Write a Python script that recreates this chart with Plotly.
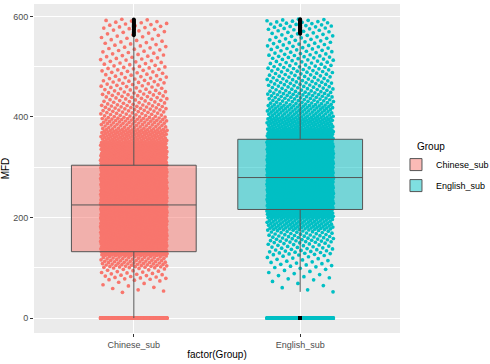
import plotly.graph_objects as go

# ---------------- data ----------------
groups = ["Chinese_sub", "English_sub"]
colors = ["#F8766D", "#00BFC4"]
fills = ["rgba(248,118,109,0.5)", "rgba(0,191,196,0.5)"]

# MFD histogram (25-unit bins) of the non-zero values, estimated from the dot density
bin_lo = [50, 75, 100, 125, 150, 175, 200, 225, 250, 275, 300, 325, 350, 375,
          400, 425, 450, 475, 500, 525, 550, 575]
bin_hi = [75, 100, 125, 150, 175, 200, 225, 250, 275, 300, 325, 350, 375, 400,
          425, 450, 475, 500, 525, 550, 575, 595]
counts_chinese = [10, 28, 70, 230, 320, 330, 330, 320, 300, 280, 230, 170, 110, 70,
                  50, 38, 30, 26, 22, 19, 17, 17]
counts_english = [6, 12, 20, 35, 50, 90, 210, 300, 320, 320, 300, 260, 170, 110,
                  80, 58, 45, 38, 32, 28, 25, 25]
zeros_chinese = 850
zeros_english = 700

# box statistics
q1 = [132, 216]
median = [225, 279.5]
q3 = [304, 355.6]

counts = [counts_chinese, counts_english]
zeros = [zeros_chinese, zeros_english]

# ---------------- build the figure ----------------
PHI = 0.6180339887
fig = go.Figure()

for gi, g in enumerate(groups):
    pos = gi + 1
    ys, xs = [], []
    k = 0
    for _ in range(zeros[gi]):
        ys.append(0)
        xs.append(pos + 0.2 * (2 * ((k * PHI + 0.37 * gi) % 1) - 1))
        k += 1
    for lo, hi, n in zip(bin_lo, bin_hi, counts[gi]):
        for i in range(n):
            ys.append(round(lo + (i + 0.5) * (hi - lo) / n, 1))
            xs.append(pos + 0.2 * (2 * ((k * PHI + 0.37 * gi) % 1) - 1))
            k += 1
    iqr = q3[gi] - q1[gi]
    up_lim = q3[gi] + 1.5 * iqr
    lo_lim = q1[gi] - 1.5 * iqr
    upper = max(y for y in ys if y <= up_lim)
    lower = min(y for y in ys if y >= lo_lim)
    outl = [y for y in ys if y > up_lim or y < lo_lim]

    # jittered points
    fig.add_trace(go.Scatter(
        x=xs, y=ys, mode="markers", showlegend=False, hoverinfo="skip",
        marker=dict(color=colors[gi], size=3.7, line=dict(width=0)), zorder=0))
    # box
    fig.add_trace(go.Box(
        x=[pos], q1=[q1[gi]], median=[median[gi]], q3=[q3[gi]],
        lowerfence=[lower], upperfence=[upper], width=0.75,
        fillcolor=fills[gi], line=dict(color="#555555", width=1),
        whiskerwidth=0, boxpoints=False, name=g, legendgroup=g, zorder=1))
    # outliers
    fig.add_trace(go.Scatter(
        x=[pos] * len(outl), y=outl, mode="markers", showlegend=False,
        hoverinfo="skip", marker=dict(color="black", size=3.7), zorder=2))

ymax = 595
pad = 0.05 * ymax
fig.update_layout(
    width=490, height=364,
    margin=dict(l=34, r=90, t=4, b=31, autoexpand=False),
    paper_bgcolor="white", plot_bgcolor="#EBEBEB",
    font=dict(family="Liberation Sans, Arial, sans-serif", size=9, color="#4D4D4D"),
    boxmode="overlay",
    showlegend=True,
    legend=dict(x=0.989, xanchor="left", y=0.48, yanchor="middle",
                font=dict(size=9, color="black"), tracegroupgap=2,
                itemwidth=30, bgcolor="rgba(0,0,0,0)"),
    annotations=[dict(text="Group", xref="paper", yref="paper", x=1.041, y=0.568,
                      xanchor="left", yanchor="middle", showarrow=False,
                      font=dict(size=10, color="black"))],
)
fig.update_xaxes(
    range=[0.4, 2.6], tickmode="array", tickvals=[1, 2], ticktext=groups,
    showgrid=True, gridcolor="white", gridwidth=1, zeroline=False,
    ticks="outside", ticklen=3, tickcolor="#333333", tickwidth=1,
    tickfont=dict(size=9, color="#4D4D4D"),
    title=dict(text="factor(Group)", font=dict(size=10, color="black"), standoff=2),
    automargin=False, showline=False)
fig.update_yaxes(
    range=[-pad, ymax + pad], tickmode="array", tickvals=[0, 200, 400, 600],
    showgrid=True, gridcolor="white", gridwidth=1, zeroline=False,
    minor=dict(tickvals=[100, 300, 500], showgrid=True, gridcolor="white",
               gridwidth=0.5, ticks=""),
    ticks="outside", ticklen=3, tickcolor="#333333", tickwidth=1,
    tickfont=dict(size=9, color="#4D4D4D"),
    title=dict(text="MFD", font=dict(size=10, color="black"), standoff=6),
    automargin=False, showline=False)

fig.write_html("out.html", config={"displayModeBar": False},
               post_script="document.body.style.margin='0';")
